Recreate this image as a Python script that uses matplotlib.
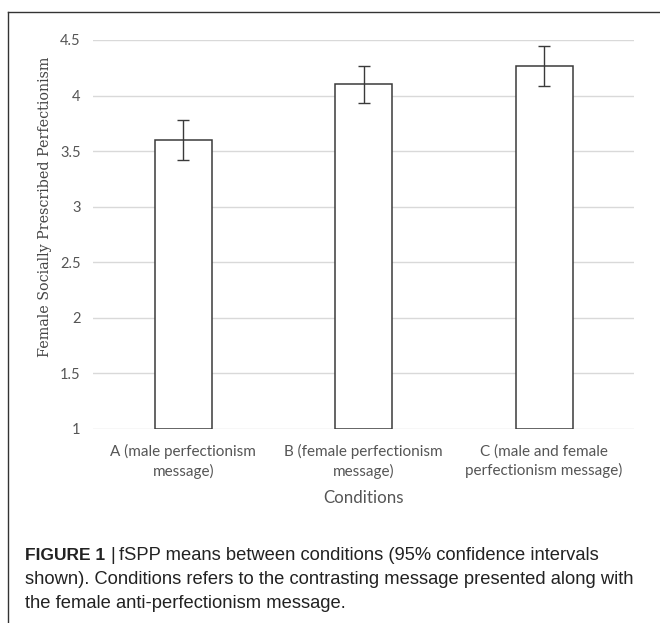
import matplotlib
matplotlib.use("Agg")
import matplotlib.pyplot as plt
from matplotlib.lines import Line2D

conditions = ["A (male perfectionism\nmessage)",
              "B (female perfectionism\nmessage)",
              "C (male and female\nperfectionism message)"]
means = [3.60, 4.10, 4.27]
ci = [0.18, 0.17, 0.18]
yticks = [1, 1.5, 2, 2.5, 3, 3.5, 4, 4.5]
ytick_labels = ["1", "1.5", "2", "2.5", "3", "3.5", "4", "4.5"]


def main():
    fig = plt.figure(figsize=(6.6, 6.23), dpi=100)
    ax = fig.add_axes([0.141, 0.3114, 0.820, 0.6244])

    x = range(len(conditions))
    ax.bar(x, [m - 1 for m in means], bottom=1, width=0.316,
           color="white", edgecolor="#3a3a3a", linewidth=1.1, zorder=3)
    ax.errorbar(x, means, yerr=ci, fmt="none", ecolor="#3a3a3a",
                elinewidth=1.0, capsize=4.3, capthick=1.0, zorder=4)

    ax.set_xlim(-0.5, 2.5)
    ax.set_ylim(1, 4.5)
    ax.set_yticks(yticks)
    ax.set_yticklabels(ytick_labels, fontfamily="Lato", fontsize=10.5, color="#555555")
    ax.set_xticks(list(x))
    ax.set_xticklabels(conditions, fontfamily="Lato", fontsize=11, color="#555555",
                       linespacing=1.35)
    ax.tick_params(length=0, pad=9)
    ax.tick_params(axis="x", pad=11)
    ax.grid(axis="y", color="#d9d9d9", linewidth=1.0, zorder=0)
    for s in ["top", "right", "left", "bottom"]:
        ax.spines[s].set_visible(False)

    ax.set_ylabel("Female Socially Prescribed Perfectionism", fontfamily="DejaVu Serif",
                  fontsize=10.3, color="#444444")
    # centre of label sits above the plot centre, as in the source
    ax.yaxis.set_label_coords(-41 / 541, (429 - 207) / 389)
    ax.set_xlabel("Conditions", fontfamily="Lato", fontsize=12.2, color="#555555", labelpad=8)

    # outer frame of the figure panel
    fig.add_artist(Line2D([8 / 660, 8 / 660], [0, 1 - 12 / 623], transform=fig.transFigure,
                          color="#333333", linewidth=1.0))
    fig.add_artist(Line2D([8 / 660, 1], [1 - 12 / 623, 1 - 12 / 623], transform=fig.transFigure,
                          color="#333333", linewidth=1.0))

    cap_font = "Liberation Sans"
    cap_size = 13.2
    fig.text(25 / 660, 1 - 555 / 623, "FIGURE 1", fontfamily=cap_font, fontweight="bold",
             fontsize=12.5, color="#222222", va="center")
    fig.text(110 / 660, 1 - 555 / 623, "|", fontfamily=cap_font, fontsize=cap_size,
             color="#222222", va="center")
    fig.text(119 / 660, 1 - 555 / 623, "fSPP means between conditions (95% confidence intervals",
             fontfamily=cap_font, fontsize=cap_size, color="#222222", va="center")
    fig.text(25 / 660, 1 - 580 / 623,
             "shown). Conditions refers to the contrasting message presented along with",
             fontfamily=cap_font, fontsize=cap_size, color="#222222", va="center")
    fig.text(25 / 660, 1 - 604 / 623, "the female anti-perfectionism message.",
             fontfamily=cap_font, fontsize=cap_size, color="#222222", va="center")

    plt.savefig("out.png", dpi=100)
    plt.close(fig)


if __name__ == "__main__":
    main()
